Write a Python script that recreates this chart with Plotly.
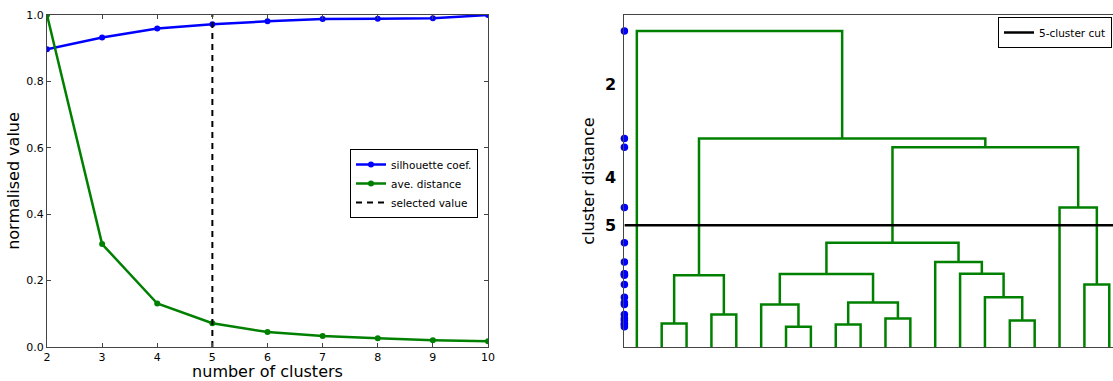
import plotly.graph_objects as go

# ---------------- data ----------------
n_clusters = [2, 3, 4, 5, 6, 7, 8, 9, 10]
silhouette = [0.897, 0.932, 0.959, 0.972, 0.981, 0.988, 0.989, 0.990, 1.0]
ave_distance = [1.0, 0.31, 0.131, 0.0715, 0.045, 0.033, 0.026, 0.020, 0.017]
selected_k = 5

n_leaves = 20
# linkage: (left child, right child, merge distance); new nodes numbered from n_leaves
merge_left = [1, 3, 20, 6, 5, 8, 10, 25, 24, 15, 14, 13, 12, 28, 18, 17, 33, 22, 0]
merge_right = [2, 4, 21, 7, 23, 9, 11, 26, 27, 16, 29, 30, 31, 32, 19, 34, 35, 36, 37]
merge_dist = [0.71, 0.98, 2.16, 0.61, 1.28, 0.68, 0.86, 1.34, 2.20, 0.80,
              1.50, 2.21, 2.56, 3.14, 1.88, 4.20, 6.02, 6.28, 9.52]
tick_clusters = [2, 4, 5]
cut_clusters = 5

# ---------------- dendrogram geometry from linkage ----------------
node_x = {i: 10 * i + 5 for i in range(n_leaves)}
node_y = {i: 0.0 for i in range(n_leaves)}
dx, dy = [], []
for k, (a, b, h) in enumerate(zip(merge_left, merge_right, merge_dist)):
    nid = n_leaves + k
    xa, xb = node_x[a], node_x[b]
    dx += [xa, xa, xb, xb, None]
    dy += [node_y[a], h, h, node_y[b], None]
    node_x[nid] = (xa + xb) / 2
    node_y[nid] = h

sorted_d = sorted(merge_dist, reverse=True)
def level(k):
    return (sorted_d[k - 2] + sorted_d[k - 1]) / 2
tick_vals = [level(k) for k in tick_clusters]
cut_y = level(cut_clusters)

# ---------------- figure ----------------
FONT = "DejaVu Sans"
W, H = 1113, 381
ydom = [1 - 347 / H, 1 - 15 / H]

fig = go.Figure()

fig.add_trace(go.Scatter(
    x=n_clusters, y=silhouette, mode="lines+markers", name="silhouette coef.",
    line=dict(color="#0000ff", width=2.5), marker=dict(size=6, color="#0000ff"),
    xaxis="x", yaxis="y", legend="legend"))
fig.add_trace(go.Scatter(
    x=n_clusters, y=ave_distance, mode="lines+markers", name="ave. distance",
    line=dict(color="#008000", width=2.5), marker=dict(size=6, color="#008000"),
    xaxis="x", yaxis="y", legend="legend"))
fig.add_trace(go.Scatter(
    x=[selected_k, selected_k], y=[0, 1], mode="lines", name="selected value",
    line=dict(color="black", width=2, dash="6px,5px"),
    xaxis="x", yaxis="y", legend="legend"))

fig.add_trace(go.Scatter(
    x=dx, y=dy, mode="lines", line=dict(color="#008000", width=2.5),
    showlegend=False, xaxis="x2", yaxis="y2"))
fig.add_trace(go.Scatter(
    x=[0, n_leaves * 10], y=[cut_y, cut_y], mode="lines", name="5-cluster cut",
    line=dict(color="black", width=2.5), xaxis="x2", yaxis="y2", legend="legend2"))
fig.add_trace(go.Scatter(
    x=[0] * len(merge_dist), y=merge_dist, mode="markers",
    marker=dict(size=7.5, color="#0000ff"), cliponaxis=False,
    showlegend=False, xaxis="x2", yaxis="y2"))

axis_common = dict(showline=True, linecolor="#444", linewidth=1, showgrid=False,
                   zeroline=False)

fig.update_layout(
    width=W, height=H,
    margin=dict(l=0, r=0, t=0, b=0, autoexpand=False),
    paper_bgcolor="white", plot_bgcolor="white",
    font=dict(family=FONT, color="black", size=11),
    xaxis=dict(domain=[47 / W, 488 / W], range=[2, 10], dtick=1, anchor="y",
               mirror="allticks", ticks="inside", ticklen=4, tickcolor="#444",
               tickfont=dict(size=11),
               title=dict(text="number of clusters", font=dict(size=16), standoff=6),
               **axis_common),
    yaxis=dict(domain=ydom, range=[0, 1], dtick=0.2, tickformat=".1f", anchor="x",
               mirror="allticks", ticks="inside", ticklen=4, tickcolor="#444",
               tickfont=dict(size=11),
               title=dict(text="normalised value", font=dict(size=16), standoff=2),
               **axis_common),
    xaxis2=dict(domain=[624.4 / W, 1.0], range=[0, 196.5], anchor="y2",
                mirror=True, showticklabels=False, ticks="", **axis_common),
    yaxis2=dict(domain=ydom, range=[0, 10], anchor="x2", mirror=False,
                tickvals=tick_vals, ticktext=[str(k) for k in tick_clusters],
                ticks="", tickfont=dict(size=16, family=FONT, weight="bold"),
                ticklabelstandoff=4,
                title=dict(text="cluster distance", font=dict(size=16), standoff=6),
                **axis_common),
    legend=dict(x=350 / W, y=1 - 149 / H, xanchor="left", yanchor="top",
                bordercolor="black", borderwidth=1, bgcolor="white",
                font=dict(size=10.5), tracegroupgap=0, itemwidth=30),
    legend2=dict(x=998 / W, y=1 - 17 / H, xanchor="left", yanchor="top",
                 bordercolor="black", borderwidth=1, bgcolor="white",
                 font=dict(size=10.5), itemwidth=30),
)

fig.write_html("out.html", config={"displayModeBar": False},
               post_script="document.body.style.margin='0';document.body.style.overflow='hidden';")
